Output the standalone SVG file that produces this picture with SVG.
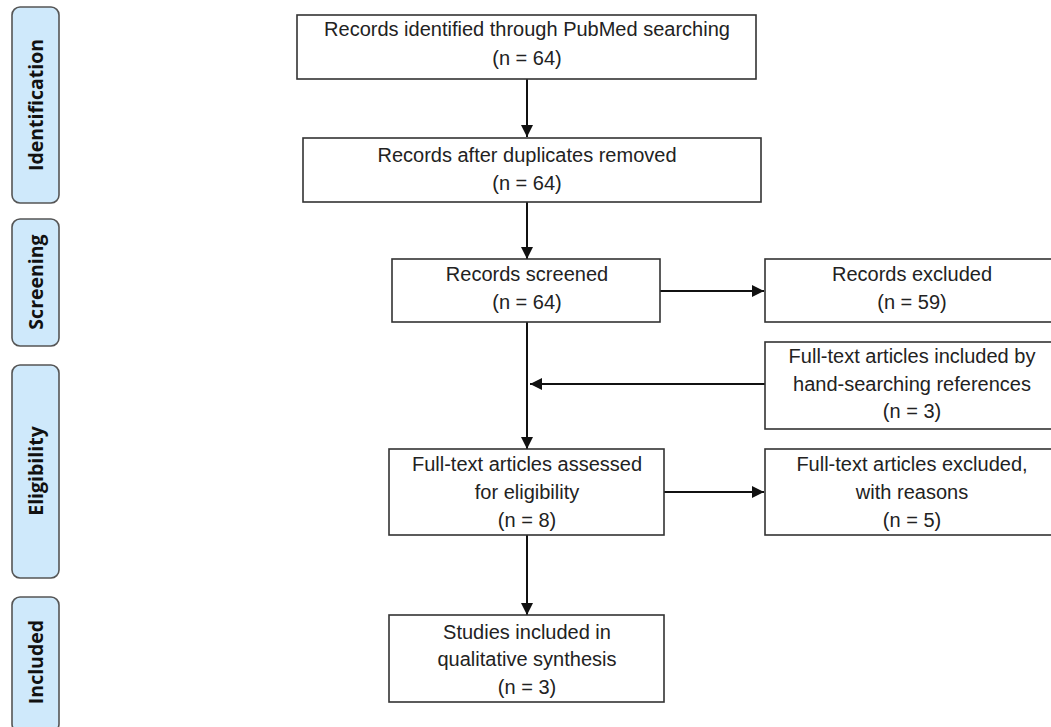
<svg xmlns="http://www.w3.org/2000/svg" width="1051" height="727" viewBox="0 0 1051 727">
<style>
.box{fill:#fff;stroke:#333;stroke-width:1.6}
.side{fill:#cfe9fb;stroke:#555;stroke-width:1.6}
.t{font-family:"Liberation Sans",Arial,sans-serif;font-size:20px;fill:#222;text-anchor:middle}
.s{font-family:"Open Sans","Liberation Sans",sans-serif;font-size:19.5px;font-weight:bold;fill:#111;text-anchor:middle}
.c{stroke:#111;stroke-width:2;fill:none;marker-end:url(#ah)}
</style>
<defs>
<marker id="ah" viewBox="0 0 10 10" refX="10" refY="5" markerWidth="6" markerHeight="6" orient="auto" markerUnits="strokeWidth">
<path d="M0,0 L10,5 L0,10 z" fill="#111"/>
</marker>
</defs>
<rect width="1051" height="727" fill="#fff"/>
<g id="side-identification"><rect class="side" x="12" y="7" width="47" height="196" rx="8"/><text class="s" transform="translate(43,105) rotate(-90)">Identification</text></g>
<g id="side-screening"><rect class="side" x="12" y="219" width="47" height="127" rx="8"/><text class="s" transform="translate(43,282) rotate(-90)">Screening</text></g>
<g id="side-eligibility"><rect class="side" x="12" y="365" width="47" height="213" rx="8"/><text class="s" transform="translate(43,471) rotate(-90)">Eligibility</text></g>
<g id="side-included"><rect class="side" x="12" y="597" width="47" height="135" rx="8"/><text class="s" transform="translate(43,662) rotate(-90)">Included</text></g>

<g id="connectors">
<line class="c" x1="527" y1="79" x2="527" y2="137"/>
<line class="c" x1="527" y1="202" x2="527" y2="259"/>
<line class="c" x1="660" y1="291" x2="764" y2="291"/>
<line class="c" x1="527" y1="322" x2="527" y2="449"/>
<line class="c" x1="765" y1="384" x2="530" y2="384"/>
<line class="c" x1="664" y1="492" x2="764" y2="492"/>
<line class="c" x1="527" y1="535" x2="527" y2="615"/>
</g>

<g id="n1"><rect class="box" x="297" y="15" width="459" height="64"/><text class="t" x="527" y="36">Records identified through PubMed searching</text><text class="t" x="527" y="65">(n = 64)</text></g>
<g id="n2"><rect class="box" x="303" y="138" width="458" height="64"/><text class="t" x="527" y="162">Records after duplicates removed</text><text class="t" x="527" y="190">(n = 64)</text></g>
<g id="n3"><rect class="box" x="392" y="259" width="268" height="63"/><text class="t" x="527" y="281">Records screened</text><text class="t" x="527" y="309">(n = 64)</text></g>
<g id="n4"><rect class="box" x="765" y="259" width="290" height="63"/><text class="t" x="912" y="281">Records excluded</text><text class="t" x="912" y="309">(n = 59)</text></g>
<g id="n5"><rect class="box" x="765" y="342" width="290" height="87"/><text class="t" x="912" y="363">Full-text articles included by</text><text class="t" x="912" y="391">hand-searching references</text><text class="t" x="912" y="418">(n = 3)</text></g>
<g id="n6"><rect class="box" x="389" y="449" width="275" height="86"/><text class="t" x="527" y="471">Full-text articles assessed</text><text class="t" x="527" y="499">for eligibility</text><text class="t" x="527" y="527">(n = 8)</text></g>
<g id="n7"><rect class="box" x="765" y="449" width="290" height="86"/><text class="t" x="912" y="471">Full-text articles excluded,</text><text class="t" x="912" y="499">with reasons</text><text class="t" x="912" y="527">(n = 5)</text></g>
<g id="n8"><rect class="box" x="389" y="615" width="275" height="87"/><text class="t" x="527" y="639">Studies included in</text><text class="t" x="527" y="666">qualitative synthesis</text><text class="t" x="527" y="694">(n = 3)</text></g>
</svg>
